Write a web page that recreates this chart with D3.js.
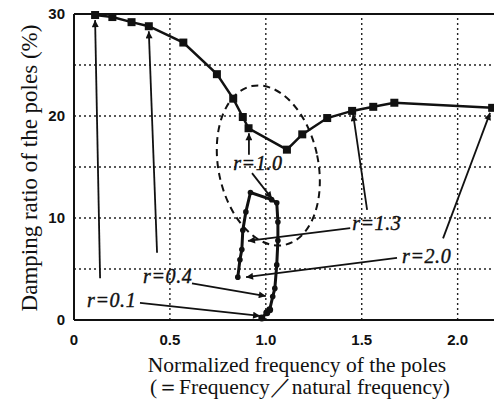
<!DOCTYPE html>
<html lang="en">
<head>
<meta charset="UTF-8">
<title>Damping ratio vs normalized frequency</title>
<style>
  body { margin: 0; background: #fff; }
  svg { display: block; }
  .tick-label { font-family: "Liberation Sans", Arial, sans-serif; font-size: 15px; font-weight: bold; fill: #111; }
  .axis-title { font-family: "Liberation Serif", "Times New Roman", serif; font-size: 21.5px; fill: #111; }
  .y-title { font-size: 23px; }
  .r-label { font-family: "Liberation Serif", "Times New Roman", serif; font-size: 20px; font-style: italic; fill: #111; letter-spacing: 0.6px; stroke: #111; stroke-width: 0.4px; }
</style>
</head>
<body>
<div id="chart"></div>
<script src="https://cdnjs.cloudflare.com/ajax/libs/d3/7.8.5/d3.min.js"></script>
<script>
// chart size
const width = 494, height = 405;
const margin = { top: 14, right: -2, bottom: 85, left: 74 };

// tick values
const xTicks = [0, 0.5, 1.0, 1.5, 2.0];
const xTickLabels = ["0", "0.5", "1.0", "1.5", "2.0"];
const yTicks = [0, 10, 20, 30];
const yGrid = [5, 10, 15, 20, 25];

// upper branch (squares)
const freqUpper = [0.11, 0.20, 0.30, 0.39, 0.57, 0.745, 0.83, 0.88, 0.91, 1.11, 1.19, 1.32, 1.45, 1.56, 1.67, 2.18];
const dampUpper = [29.9, 29.7, 29.2, 28.8, 27.2, 24.1, 21.7, 19.9, 18.8, 16.7, 18.2, 19.8, 20.5, 20.9, 21.3, 20.8];

// lower branch (small dots)
const freqLower = [0.979, 1.005, 1.02, 1.036, 1.047, 1.057, 1.063, 1.063, 1.057, 1.03, 0.92, 0.896, 0.88, 0.875, 0.865, 0.854];
const dampLower = [0.2, 0.7, 1.0, 2.3, 3.1, 5.4, 7.8, 9.6, 11.5, 11.8, 12.5, 10.6, 8.8, 6.9, 5.9, 4.2];

// r labels (data coords of text start / baseline)
const rLabels = ["r=0.1", "r=0.4", "r=1.0", "r=1.3", "r=2.0"];
const rLabelX = [0.068, 0.36, 0.83, 1.45, 1.71];
const rLabelY = [1.27, 3.6, 14.7, 8.8, 5.6];

// annotation arrows (data coords, from -> to)
const arrowX1 = [0.136, 0.433, 0.912, 0.928, 1.528, 1.44, 1.924, 1.684, 0.615, 0.344];
const arrowY1 = [4.1, 6.6, 16.2, 14.4, 10.8, 9.0, 8.0, 6.1, 3.6, 1.67];
const arrowX2 = [0.11, 0.39, 0.912, 1.032, 1.455, 0.907, 2.169, 0.897, 1.00, 0.97];
const arrowY2 = [29.4, 28.3, 18.3, 11.9, 20.2, 7.75, 20.3, 4.2, 2.35, 0.4];

// dashed ellipse around r=1.0 region
const ellipseCx = 1.013, ellipseCy = 15.15, ellipseRx = 0.26, ellipseRy = 7.95, ellipseTilt = -11.7;

const svg = d3.select("#chart").append("svg")
  .attr("width", width).attr("height", height);

const x = d3.scaleLinear().domain([0, 2.2]).range([margin.left, width - margin.right]);
const y = d3.scaleLinear().domain([0, 30]).range([height - margin.bottom, margin.top]);

const defs = svg.append("defs");
defs.append("marker")
  .attr("id", "arrow")
  .attr("viewBox", "0 0 10 10")
  .attr("refX", 10).attr("refY", 5)
  .attr("markerWidth", 9).attr("markerHeight", 7)
  .attr("markerUnits", "userSpaceOnUse")
  .attr("orient", "auto")
  .append("path").attr("d", "M0,0 L10,5 L0,10 Z").attr("fill", "#111");

// dotted grid
const grid = svg.append("g").attr("stroke", "#222").attr("stroke-width", 1.4).attr("stroke-dasharray", "2,3");
grid.selectAll(".vg").data(xTicks.slice(1)).join("line")
  .attr("x1", d => x(d)).attr("x2", d => x(d))
  .attr("y1", y(0)).attr("y2", y(30));
grid.selectAll(".hg").data(yGrid).join("line")
  .attr("x1", x(0)).attr("x2", width)
  .attr("y1", d => y(d)).attr("y2", d => y(d));

// frame
const frame = svg.append("g").attr("stroke", "#111").attr("stroke-width", 2);
frame.append("line").attr("x1", x(0)).attr("x2", width).attr("y1", y(0)).attr("y2", y(0));
frame.append("line").attr("x1", x(0)).attr("x2", width).attr("y1", y(30)).attr("y2", y(30));
frame.append("line").attr("x1", x(0)).attr("x2", x(0)).attr("y1", y(0)).attr("y2", y(30));

// tick labels
svg.selectAll(".xt").data(xTicks).join("text")
  .attr("class", "tick-label")
  .attr("x", d => x(d)).attr("y", y(0) + 25)
  .attr("text-anchor", "middle")
  .text((d, i) => xTickLabels[i]);
svg.selectAll(".yt").data(yTicks).join("text")
  .attr("class", "tick-label")
  .attr("x", x(0) - 9).attr("y", d => y(d) + 5)
  .attr("text-anchor", "end")
  .text(d => d);

// axis titles
svg.append("text").attr("class", "axis-title")
  .attr("x", 297).attr("y", 372).attr("text-anchor", "middle")
  .text("Normalized frequency of the poles");
svg.append("text").attr("class", "axis-title")
  .attr("x", 300).attr("y", 394).attr("text-anchor", "middle")
  .text("(＝Frequency／natural frequency)");
svg.append("text").attr("class", "axis-title y-title")
  .attr("transform", `translate(37, 168) rotate(-90)`)
  .attr("text-anchor", "middle")
  .text("Damping ratio of the poles (%)");

// dashed ellipse
svg.append("ellipse")
  .attr("cx", 0).attr("cy", 0)
  .attr("rx", x(ellipseRx) - x(0))
  .attr("ry", y(0) - y(ellipseRy))
  .attr("transform", `translate(${x(ellipseCx)},${y(ellipseCy)}) rotate(${ellipseTilt})`)
  .attr("fill", "none").attr("stroke", "#111").attr("stroke-width", 2)
  .attr("stroke-dasharray", "7,5");

// upper curve
const upper = freqUpper.map((f, i) => [f, dampUpper[i]]);
const lower = freqLower.map((f, i) => [f, dampLower[i]]);
const line = d3.line().x(d => x(d[0])).y(d => y(d[1]));

svg.append("path").datum(upper).attr("d", line)
  .attr("fill", "none").attr("stroke", "#111").attr("stroke-width", 2.5);
svg.selectAll(".sq").data(upper).join("rect")
  .attr("x", d => x(d[0]) - 4).attr("y", d => y(d[1]) - 4)
  .attr("width", 8).attr("height", 8).attr("fill", "#111");

// lower curve
svg.append("path").datum(lower).attr("d", line)
  .attr("fill", "none").attr("stroke", "#111").attr("stroke-width", 3);
svg.selectAll(".dot").data(lower).join("circle")
  .attr("cx", d => x(d[0])).attr("cy", d => y(d[1]))
  .attr("r", (d, i) => i < 3 ? 3.5 : 2.8).attr("fill", "#111");

// arrows
svg.selectAll(".arr").data(arrowX1).join("line")
  .attr("x1", (d, i) => x(arrowX1[i])).attr("y1", (d, i) => y(arrowY1[i]))
  .attr("x2", (d, i) => x(arrowX2[i])).attr("y2", (d, i) => y(arrowY2[i]))
  .attr("stroke", "#111").attr("stroke-width", 1.8)
  .attr("marker-end", "url(#arrow)");

// r labels
svg.selectAll(".rl").data(rLabels).join("text")
  .attr("class", "r-label")
  .attr("x", (d, i) => x(rLabelX[i])).attr("y", (d, i) => y(rLabelY[i]))
  .text(d => d);
</script>
</body>
</html>
